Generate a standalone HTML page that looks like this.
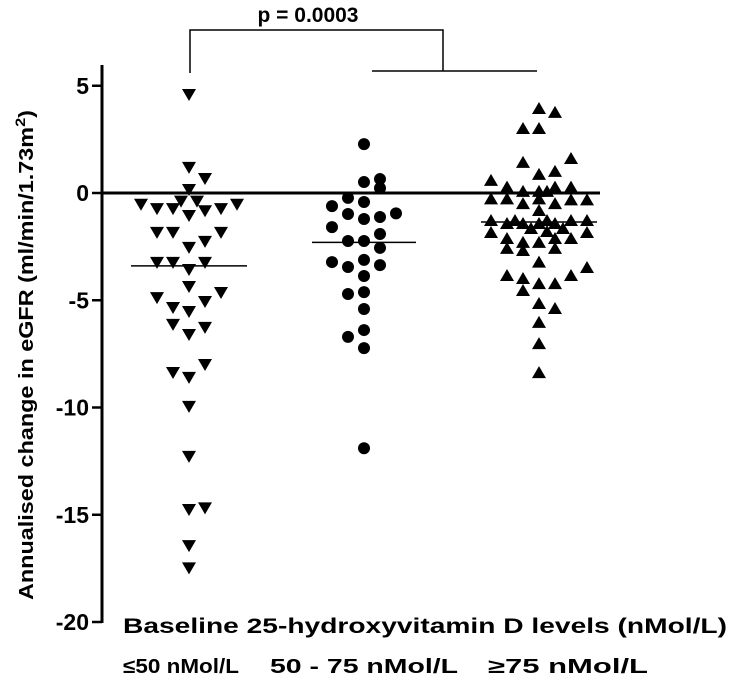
<!DOCTYPE html>
<html><head><meta charset="utf-8"><style>
html,body{margin:0;padding:0;background:#fff;}
svg{display:block;font-family:"Liberation Sans",Arial,sans-serif;}
</style></head><body>
<svg id="chart" width="737" height="677" viewBox="0 0 737 677" xmlns="http://www.w3.org/2000/svg">
<g id="axes"></g>
<g id="marks"></g>
<g stroke="#000" stroke-width="1.5" fill="none">
<polyline points="190,73 190,30 443,30 443,71"/>
<line x1="372" y1="71" x2="537" y2="71"/>
</g>
<text x="308" y="22" font-size="21" font-weight="bold" text-anchor="middle">p = 0.0003</text>
<text transform="translate(33,355) rotate(-90)" font-size="20" font-weight="bold" text-anchor="middle" textLength="490" lengthAdjust="spacingAndGlyphs">Annualised change in eGFR (ml/min/1.73m<tspan dy="-8" font-size="14">2</tspan><tspan dy="8">)</tspan></text>
<text x="123" y="633" font-size="21" font-weight="bold" textLength="604" lengthAdjust="spacingAndGlyphs">Baseline 25-hydroxyvitamin D levels (nMol/L)</text>
<g id="cats"></g>
</svg>
<script>
const categories = ["≤50 nMol/L", "50 - 75 nMol/L", "≥75 nMol/L"];
const yTicks = [5, 0, -5, -10, -15, -20];
const group1Values = [4.57,1.17,0.65,0.14,-0.55,-0.55,-0.4,-0.4,-0.75,-0.75,-0.75,-0.85,-1.07,-1.86,-1.86,-1.86,-2.28,-2.56,-3.26,-3.26,-3.26,-3.59,-4.38,-4.66,-4.9,-5.08,-5.36,-5.55,-6.15,-6.29,-6.62,-8.02,-8.39,-8.62,-9.97,-12.3,-14.7,-14.78,-16.46,-17.5];
const group1Jitter = [0,0,1,0,-3,3,-0.5,0.5,-2,-1,2,1,0,-2,-1,2,1,0,-2,-1,1,0,0,2,-2,1,-1,0,-1,1,0,1,-1,0,0,0,1,0,0,0];
const group2Values = [2.28,0.51,0.65,0.23,-0.23,-0.42,-0.61,-0.98,-0.95,-1.21,-1.12,-1.59,-1.91,-2.24,-2.24,-2.56,-3.22,-3.12,-3.36,-3.45,-3.87,-4.71,-4.62,-5.41,-6.39,-6.71,-7.23,-11.9];
const group2Jitter = [0,0,1,1,-1,0,-2,-1,2,0,1,-2,1,-1,0,1,-2,0,1,-1,0,-1,0,0,0,-1,0,0];
const group3Values = [3.96,3.78,3.03,3.03,1.45,1.63,0.89,1.03,0.61,0.3,0.3,0.3,0.1,0.1,0.1,-0.25,-0.25,-0.25,-0.3,-0.3,-0.47,-0.47,-0.79,-1.26,-1.26,-1.26,-1.26,-1.26,-1.4,-1.4,-1.4,-1.4,-1.63,-1.63,-1.82,-1.82,-1.77,-2.1,-2.1,-2.1,-2.28,-2.28,-2.56,-2.56,-2.66,-3.2,-3.45,-3.82,-3.82,-3.96,-4.2,-4.2,-4.52,-5.13,-5.36,-6.01,-7.0,-8.35];
const group3Jitter = [0,1,-1,0,-1,2,0,1,-3,-2,1,2,-1,0,0.5,-3,-2,0,2,3,-1,1,0,-3,-1.5,0.5,2,3,-2,-1,0,1,-0.5,1.5,-3,3,0.5,-2,1,2,-1,0,-2,1,-1,0,3,-2,2,-1,0,1,-1,0,1,0,0,0];
const groupMeans = [-3.4, -2.3, -1.35];

const NS = "http://www.w3.org/2000/svg";
const y0 = 193, pxPerUnit = 21.45, axisX = 102, step = 16;
const centers = [189, 364, 539];
const yScale = v => y0 - v * pxPerUnit;
const xScale = (g, j) => centers[g] + j * step;
function mk(tag, attrs, parent){const e=document.createElementNS(NS,tag);for(const k in attrs)e.setAttribute(k,attrs[k]);parent.appendChild(e);return e;}

const axes = document.getElementById('axes');
let ax = mk('line',{x1:axisX,y1:65,x2:axisX,y2:yScale(-20)+1,stroke:'#000','stroke-width':3},axes);


yTicks.forEach(t=>{
  const y=yScale(t);
  const tk=mk('line',{x1:92,y1:y,x2:axisX,y2:y,stroke:'#000','stroke-width':2.5},axes);
  
  
  const tl=mk('text',{x:89,y:y+8,'font-size':23,'font-weight':'bold','text-anchor':'end'},axes);
  tl.textContent=t;
  
  
});
const zl=mk('line',{x1:axisX,y1:yScale(0),x2:600,y2:yScale(0),stroke:'#000','stroke-width':3},axes);



const marks = document.getElementById('marks');
function downTri(cx,cy){return `${cx-7},${cy-6} ${cx+7},${cy-6} ${cx},${cy+6}`;}
function upTri(cx,cy){return `${cx-7},${cy+6} ${cx+7},${cy+6} ${cx},${cy-6}`;}
group1Values.forEach((v,i)=>{
  const p=mk('polygon',{points:downTri(xScale(0,group1Jitter[i]||0),yScale(v)),fill:'#000'},marks);
  
  
});
group2Values.forEach((v,i)=>{
  const p=mk('circle',{cx:xScale(1,group2Jitter[i]||0),cy:yScale(v),r:6,fill:'#000'},marks);
  
  
});
group3Values.forEach((v,i)=>{
  const p=mk('polygon',{points:upTri(xScale(2,group3Jitter[i]||0),yScale(v)),fill:'#000'},marks);
  
  
});
const halfW=[58,52,58];
groupMeans.forEach((m,g)=>{
  const l=mk('line',{x1:centers[g]-halfW[g],y1:yScale(m),x2:centers[g]+halfW[g],y2:yScale(m),stroke:'#000','stroke-width':1.5},marks);
  
  
});

const cats = document.getElementById('cats');
const catX=[123,270,488];
const catW=[116,188,160];
categories.forEach((c,i)=>{
  const t=mk('text',{x:catX[i],y:673,'font-size':20,'font-weight':'bold',textLength:catW[i],lengthAdjust:'spacingAndGlyphs'},cats);
  t.textContent=c;
  
  
});
</script>
</body></html>
